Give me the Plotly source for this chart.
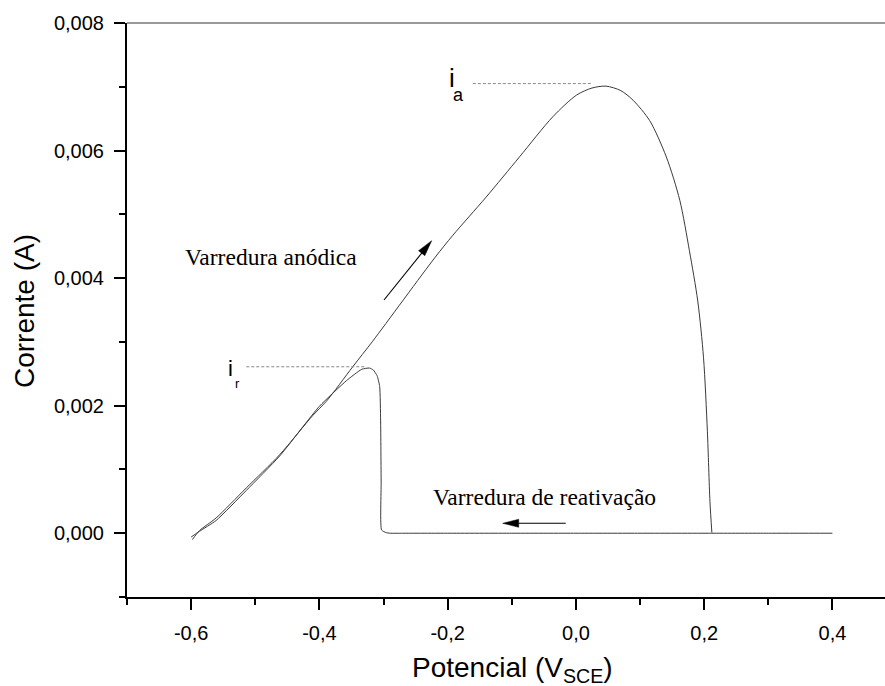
import plotly.graph_objects as go

# ---------------- data ----------------
fwd_V = [-0.598, -0.587, -0.561, -0.514, -0.462, -0.410, -0.389, -0.348, -0.317,
         -0.220, -0.192, -0.140, -0.088, -0.036, 0.001, 0.025, 0.047, 0.070, 0.089,
         0.115, 0.141, 0.162, 0.177, 0.190, 0.199, 0.205, 0.209, 0.212]
fwd_I = [-0.00010, 0.00004, 0.00024, 0.00071, 0.00123, 0.00185, 0.00207, 0.00261, 0.00301,
         0.00432, 0.00467, 0.00527, 0.00590, 0.00653, 0.00687, 0.00698, 0.00701, 0.00694, 0.00679,
         0.00647, 0.00590, 0.00522, 0.00443, 0.00364, 0.00275, 0.00160, 0.00050, 0.00001]

rev_V = [0.400, 0.300, 0.212, 0.100, 0.000, -0.100, -0.200, -0.270, -0.290, -0.296,
         -0.3030, -0.3037, -0.3045, -0.3060, -0.310, -0.316, -0.322,
         -0.334, -0.358, -0.400, -0.462, -0.514, -0.561, -0.587, -0.600]
rev_I = [0.0, 0.0, 0.0, 0.0, 0.0, 0.0, 0.0, 0.0, 0.0, 0.00001,
         0.00005, 0.00080, 0.00176, 0.00230, 0.00247, 0.00256, 0.00259,
         0.00257, 0.00239, 0.00199, 0.00121, 0.00067, 0.00020, 0.00003, -0.00006]

x_tick_vals = [-0.6, -0.4, -0.2, 0.0, 0.2, 0.4]
x_tick_text = ["-0,6", "-0,4", "-0,2", "0,0", "0,2", "0,4"]
x_minor_vals = [-0.7, -0.5, -0.3, -0.1, 0.1, 0.3]
y_tick_vals = [0.000, 0.002, 0.004, 0.006, 0.008]
y_tick_text = ["0,000", "0,002", "0,004", "0,006", "0,008"]
y_minor_vals = [-0.001, 0.001, 0.003, 0.005, 0.007]

i_a_level = 0.00705
i_r_level = 0.00261

# ---------------- layout helpers ----------------
W, H = 885, 686
L, R, T, B = 127, 0, 23, 89
PW, PH = W - L - R, H - T - B
X0, Y0 = -0.7, -0.001
XSPAN, YSPAN = PW / 641.3, 0.009


def px(xp):
    return (xp - L) / PW


def py(yp):
    return (H - B - yp) / PH


def dx(xp):
    return X0 + px(xp) * XSPAN


def dy(yp):
    return Y0 + py(yp) * YSPAN


def arrow_shapes(tail, tip, head_len=16, half_w=4):
    (tx, ty), (hx, hy) = tail, tip
    ln = ((hx - tx) ** 2 + (hy - ty) ** 2) ** 0.5
    ux, uy = (hx - tx) / ln, (hy - ty) / ln
    nx, ny = -uy, ux
    bx, by = hx - head_len * ux, hy - head_len * uy
    c1 = (bx + half_w * nx, by + half_w * ny)
    c2 = (bx - half_w * nx, by - half_w * ny)
    shaft = dict(type="line", xref="x", yref="y", x0=dx(tx), y0=dy(ty),
                 x1=dx(bx + 3 * ux), y1=dy(by + 3 * uy),
                 line=dict(color="black", width=1.1))
    path = "M {} {} L {} {} L {} {} Z".format(dx(hx), dy(hy), dx(c1[0]), dy(c1[1]),
                                              dx(c2[0]), dy(c2[1]))
    head = dict(type="path", xref="x", yref="y", path=path, fillcolor="black",
                line=dict(color="black", width=0.5))
    return [shaft, head]


SANS = "Liberation Sans, Arial, sans-serif"
SERIF = "Liberation Serif, Times New Roman, serif"
CURVE = "#3a3a3a"

fig = go.Figure()
fig.add_trace(go.Scatter(x=fwd_V, y=fwd_I, mode="lines",
                         line=dict(color=CURVE, width=1, shape="spline", smoothing=0.8),
                         showlegend=False))
fig.add_trace(go.Scatter(x=rev_V, y=rev_I, mode="lines",
                         line=dict(color=CURVE, width=1, shape="spline", smoothing=0.5),
                         showlegend=False))

axis_common = dict(showgrid=False, zeroline=False, showline=True, linecolor="black",
                   linewidth=2, ticks="outside", ticklen=11, tickwidth=1.6,
                   tickcolor="black", tickfont=dict(family=SANS, size=20, color="black"),
                   ticklabelstandoff=6)

fig.update_xaxes(range=[X0, X0 + XSPAN], tickmode="array",
                 tickvals=x_tick_vals, ticktext=x_tick_text,
                 minor=dict(tickmode="array", tickvals=x_minor_vals, ticks="outside",
                            ticklen=6, tickwidth=1.6, tickcolor="black"),
                 **axis_common)
fig.update_yaxes(range=[Y0, Y0 + YSPAN], tickmode="array",
                 tickvals=y_tick_vals, ticktext=y_tick_text,
                 minor=dict(tickmode="array", tickvals=y_minor_vals, ticks="outside",
                            ticklen=6, tickwidth=1.6, tickcolor="black"),
                 **axis_common)

shapes = [
    dict(type="line", xref="paper", yref="paper", x0=0, x1=1, y0=1, y1=1,
         line=dict(color="#999999", width=2)),
    dict(type="line", xref="x", yref="y", x0=-0.514, x1=-0.3295, y0=i_r_level, y1=i_r_level,
         line=dict(color="#888888", width=1, dash="3px,2px")),
    dict(type="line", xref="x", yref="y", x0=-0.1607, x1=0.0253, y0=i_a_level, y1=i_a_level,
         line=dict(color="#888888", width=1, dash="3px,2px")),
]
shapes += arrow_shapes((384, 300), (431.7, 240.7))
shapes += arrow_shapes((565.7, 523.3), (502.7, 523.3))

annotations = [
    dict(text="Varredura anódica", x=px(183), y=py(257), xref="paper", yref="paper",
         xanchor="left", yanchor="middle", showarrow=False,
         font=dict(family=SERIF, size=23.5, color="black")),
    dict(text="Varredura de reativação", x=px(431), y=py(497), xref="paper", yref="paper",
         xanchor="left", yanchor="middle", showarrow=False,
         font=dict(family=SERIF, size=23.5, color="black")),
    dict(text="i", x=px(452), y=py(78), xref="paper", yref="paper",
         xanchor="center", yanchor="middle", showarrow=False,
         font=dict(family=SANS, size=26, color="black")),
    dict(text="a", x=px(458), y=py(95), xref="paper", yref="paper",
         xanchor="center", yanchor="middle", showarrow=False,
         font=dict(family=SANS, size=18, color="black")),
    dict(text="i", x=px(230), y=py(369), xref="paper", yref="paper",
         xanchor="center", yanchor="middle", showarrow=False,
         font=dict(family=SANS, size=22, color="black")),
    dict(text="r", x=px(237), y=py(383), xref="paper", yref="paper",
         xanchor="center", yanchor="middle", showarrow=False,
         font=dict(family=SANS, size=13, color="black")),
    # axis titles
    dict(text="Potencial (V<sub>SCE</sub>)", x=px(512), y=py(669), xref="paper", yref="paper",
         xanchor="center", yanchor="middle", showarrow=False,
         font=dict(family=SANS, size=28, color="black")),
    dict(text="Corrente (A)", x=px(24), y=py(311), xref="paper", yref="paper",
         xanchor="center", yanchor="middle", showarrow=False, textangle=-90,
         font=dict(family=SANS, size=28, color="black")),
]

fig.update_layout(width=W, height=H, margin=dict(l=L, r=R, t=T, b=B, autoexpand=False),
                  paper_bgcolor="white", plot_bgcolor="white",
                  shapes=shapes, annotations=annotations, showlegend=False)

fig.write_html("out.html")
